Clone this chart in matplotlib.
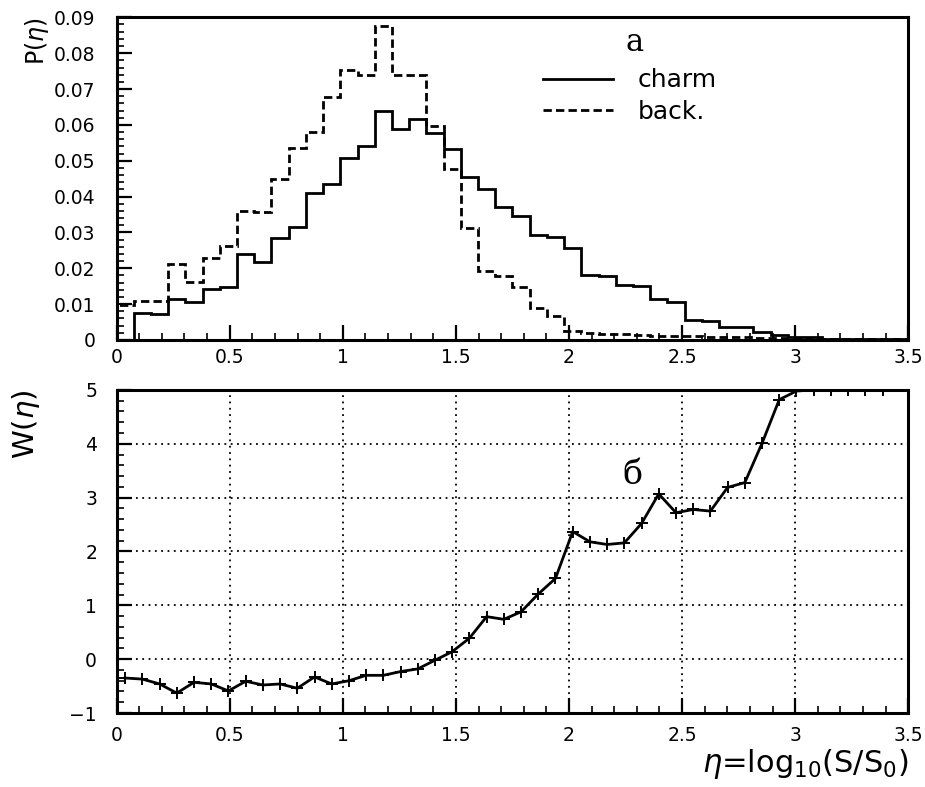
import numpy as np
import matplotlib.pyplot as plt
from matplotlib.ticker import MultipleLocator

#**********************************************
# data
# (a) eta distributions, 46 bins between 0 and 3.5
edges = np.linspace(0, 3.5, 47)

charm = [0, 0.0074, 0.0072, 0.0113, 0.0105, 0.0143, 0.0147, 0.0240, 0.0218, 0.0284,
         0.0315, 0.0410, 0.0434, 0.0507, 0.0540, 0.0640, 0.0589, 0.0616, 0.0578, 0.0533,
         0.0455, 0.0420, 0.0372, 0.0347, 0.0293, 0.0286, 0.0257, 0.0180, 0.0178, 0.0153,
         0.0150, 0.0114, 0.0107, 0.0056, 0.0054, 0.0037, 0.0035, 0.0023, 0.0014, 0.0009,
         0.0009, 0.0004, 0.0003, 0.0003, 0.0002, 0.0002]

back = [0.0098, 0.0108, 0.0109, 0.0212, 0.0163, 0.0228, 0.0263, 0.0360, 0.0356, 0.0450,
        0.0536, 0.0580, 0.0678, 0.0753, 0.0739, 0.0876, 0.0739, 0.0739, 0.0597, 0.0477,
        0.0313, 0.0193, 0.0178, 0.0149, 0.0088, 0.0067, 0.0025, 0.0020, 0.0018, 0.0016,
        0.0014, 0.0012, 0.0010, 0.0010, 0.0009, 0.0008, 0.0007, 0.0006, 0.0005, 0.0005,
        0.0004, 0.0003, 0.0003, 0.0003, 0.0003, 0.0003]

# (b) weight W(eta) at the bin centres of the first 45 bins
W = [-0.35, -0.37, -0.46, -0.63, -0.43, -0.46, -0.59, -0.41, -0.48, -0.46,
     -0.54, -0.33, -0.46, -0.40, -0.30, -0.30, -0.23, -0.18, -0.02, 0.14,
     0.39, 0.79, 0.74, 0.88, 1.21, 1.50, 2.37, 2.18, 2.13, 2.16,
     2.52, 3.07, 2.72, 2.78, 2.75, 3.19, 3.28, 4.01, 4.82, 4.98,
     5.0, 5.0, 5.0, 5.0, 5.0]
eta = 0.5 * (edges[:-1] + edges[1:])[:len(W)]

xticks = [0, 0.5, 1, 1.5, 2, 2.5, 3, 3.5]
xticklabels = ['0', '0.5', '1', '1.5', '2', '2.5', '3', '3.5']
pticks = np.arange(0, 0.0901, 0.01)
plabels = ['0'] + ['%.2f' % v for v in pticks[1:]]
wticks = [-1, 0, 1, 2, 3, 4, 5]

#**********************************************
plt.rcParams['font.family'] = ['DejaVu Sans']
LW = 2.0

fig = plt.figure(figsize=(9.25, 7.87), dpi=100)
ax1 = fig.add_axes([0.126, 0.568, 0.856, 0.41])
ax2 = fig.add_axes([0.126, 0.094, 0.856, 0.4105])

for ax in (ax1, ax2):
    for s in ax.spines.values():
        s.set_linewidth(2.2)
    ax.set_xlim(0, 3.5)
    ax.set_xticks(xticks)
    ax.set_xticklabels(xticklabels)
    ax.xaxis.set_minor_locator(MultipleLocator(0.1))
    ax.tick_params(which='both', direction='in', top=False, right=False, labelsize=13.5)
    ax.tick_params(which='major', length=11, width=1.6)
    ax.tick_params(which='minor', length=5, width=1.2)

# ---- top panel: probability distributions
ax1.stairs(charm, edges, color='black', lw=LW, label='charm')
ax1.stairs(back, edges, color='black', lw=LW, linestyle=(0, (3, 1.5)), label='back.')
ax1.set_ylim(0, 0.09)
ax1.set_yticks(pticks)
ax1.set_yticklabels(plabels)
ax1.yaxis.set_minor_locator(MultipleLocator(0.002))
ax1.tick_params(axis='y', which='both', pad=15)
ax1.tick_params(axis='x', which='both', pad=6)
ax1.set_ylabel(r'P($\eta$)', fontsize=17, loc='top', labelpad=2)
ax1.text(2.29, 0.083, 'a', fontsize=22, family='DejaVu Serif', ha='center', va='center')
ax1.legend(loc='upper left', bbox_to_anchor=(0.526, 0.873), frameon=False, fontsize=18,
           handlelength=2.8, handletextpad=1.0, labelspacing=0.3, borderaxespad=0)

# ---- bottom panel: weight function
ax2.plot(eta, W, color='black', lw=LW, marker='+', ms=9, mew=1.4)
ax2.set_ylim(-1, 5)
ax2.set_yticks(wticks)
ax2.yaxis.set_minor_locator(MultipleLocator(0.2))
ax2.tick_params(axis='y', which='both', pad=14)
ax2.tick_params(axis='x', which='both', pad=9)
ax2.grid(True, which='major', color='black', linestyle=(0, (1, 2.5)), lw=1.3)
ax2.set_ylabel(r'W($\eta$)', fontsize=21, loc='top', labelpad=20)
ax2.text(2.28, 3.42, 'б', fontsize=24, family='DejaVu Serif', ha='center', va='center')
ax2.set_xlabel(r'$\eta$=log$_{10}$(S/S$_0$)', fontsize=22, loc='right', labelpad=2)

plt.savefig('out.png', dpi=100)
